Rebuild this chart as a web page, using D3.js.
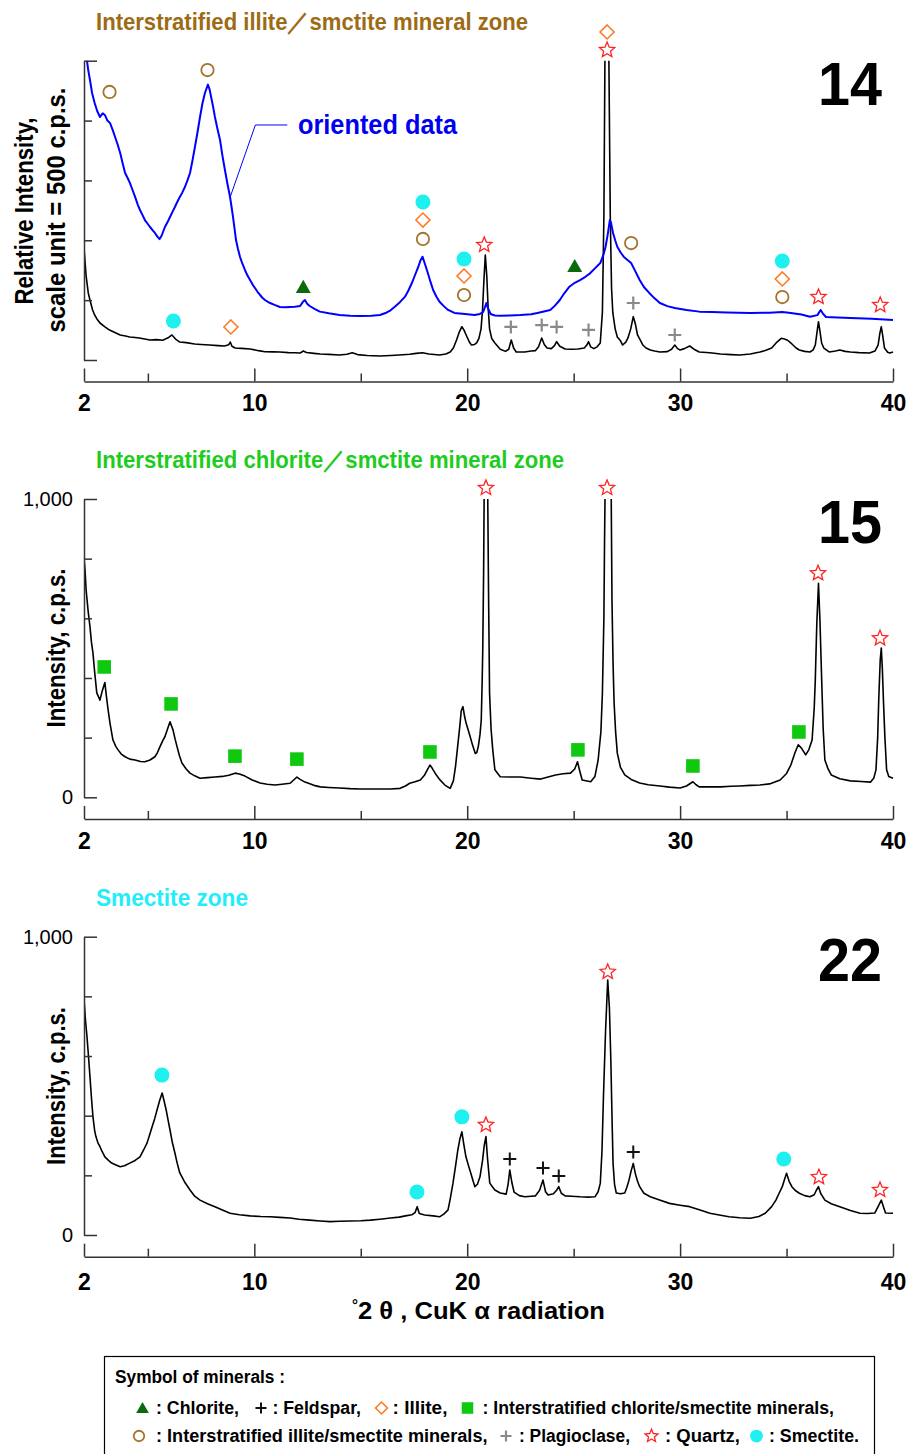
<!DOCTYPE html>
<html>
<head>
<meta charset="utf-8">
<script src="https://cdn.jsdelivr.net/npm/d3@7"></script>
<style>
  body { margin: 0; background: #fff; }
  svg { display: block; }
</style>
</head>
<body>
<div id="chart"></div>
<script>

// x axis (degrees 2-theta)
var xTickValues = [2, 5, 10, 15, 20, 25, 30, 35, 40];
var xTickLabels = [2, 10, 20, 30, 40];

// y ticks
var yTicks14 = [0, 500, 1000, 1500, 2000, 2500];
var yTicksCps = [0, 200, 400, 600, 800, 1000];
var yLabelsCps = [0, 1000];

// sample 14, random powder (black) - [2theta, relative intensity]
var trace14Random = [[2.0,935],[2.1,700],[2.2,560],[2.28,501],[2.4,420],[2.5,376],[2.6,345],[2.75,309],[3.0,275],[3.2,250],[3.45,230],[3.7,209],[3.95,200],[4.15,192],[4.4,188],[4.6,184],[4.85,176],[5.1,167],[5.4,170],[5.7,165],[5.95,185],[6.13,209],[6.3,175],[6.5,150],[6.8,145],[7.2,134],[7.5,130],[7.9,125],[8.3,120],[8.6,117],[8.8,128],[8.87,150],[8.95,115],[9.1,100],[9.4,97],[9.8,92],[10.2,78],[10.5,69],[10.9,68],[11.2,67],[11.6,62],[11.9,60],[12.15,58],[12.3,75],[12.45,62],[12.8,55],[13.1,50],[13.5,47],[14.0,42],[14.35,48],[14.6,60],[14.85,45],[15.3,38],[15.9,33],[16.4,38],[16.8,42],[17.3,48],[17.6,55],[17.9,60],[18.2,50],[18.7,42],[19.0,50],[19.2,67],[19.35,100],[19.5,167],[19.62,230],[19.75,278],[19.85,250],[19.95,209],[20.1,150],[20.2,125],[20.35,130],[20.45,145],[20.55,180],[20.65,260],[20.72,420],[20.78,650],[20.85,877],[20.92,700],[20.98,450],[21.05,260],[21.15,180],[21.3,142],[21.55,90],[21.8,72],[21.95,90],[22.07,167],[22.18,100],[22.3,67],[22.7,67],[23.0,75],[23.2,78],[23.35,110],[23.5,184],[23.62,130],[23.75,100],[23.95,95],[24.1,120],[24.2,153],[24.35,115],[24.6,92],[24.9,90],[25.2,92],[25.5,100],[25.62,125],[25.7,153],[25.8,110],[25.95,95],[26.1,110],[26.25,142],[26.35,400],[26.42,1200],[26.48,2800],[26.56,4800],[26.64,2800],[26.72,1200],[26.78,600],[26.84,393],[26.95,260],[27.05,192],[27.2,160],[27.3,125],[27.45,150],[27.55,184],[27.68,260],[27.8,362],[27.9,300],[28.0,209],[28.15,160],[28.25,125],[28.4,100],[28.6,84],[28.8,75],[29.05,67],[29.4,70],[29.6,90],[29.75,125],[29.88,95],[30.0,84],[30.2,95],[30.45,117],[30.65,90],[30.9,67],[31.4,60],[31.9,50],[32.4,45],[32.8,42],[33.3,50],[33.75,67],[34.0,80],[34.3,100],[34.55,150],[34.75,181],[34.9,175],[35.05,165],[35.25,134],[35.45,100],[35.6,84],[35.85,72],[36.1,67],[36.25,85],[36.35,125],[36.43,230],[36.5,320],[36.57,240],[36.65,140],[36.75,100],[37.0,67],[37.3,75],[37.5,84],[37.75,72],[38.0,67],[38.4,62],[38.9,58],[39.15,75],[39.3,125],[39.38,220],[39.45,278],[39.52,200],[39.6,100],[39.75,65],[39.85,58],[40.0,67]];

// sample 14, oriented (blue)
var trace14Oriented = [[2.05,2650],[2.14,2500],[2.2,2420],[2.28,2339],[2.38,2230],[2.5,2147],[2.62,2080],[2.75,2030],[2.88,2060],[2.98,2047],[3.1,2000],[3.22,1980],[3.35,1920],[3.46,1863],[3.58,1800],[3.7,1729],[3.82,1640],[3.93,1562],[4.05,1520],[4.16,1478],[4.28,1420],[4.4,1362],[4.52,1300],[4.63,1253],[4.75,1210],[4.86,1169],[4.98,1140],[5.1,1111],[5.22,1085],[5.33,1061],[5.45,1030],[5.55,1010],[5.65,1040],[5.8,1111],[5.92,1150],[6.04,1194],[6.15,1235],[6.27,1278],[6.38,1320],[6.5,1362],[6.62,1400],[6.74,1445],[6.86,1500],[6.98,1562],[7.1,1670],[7.21,1779],[7.33,1900],[7.45,2030],[7.56,2140],[7.68,2230],[7.76,2270],[7.82,2300],[7.9,2260],[8.0,2172],[8.08,2100],[8.15,2030],[8.27,1930],[8.39,1838],[8.5,1710],[8.62,1587],[8.74,1470],[8.86,1362],[8.93,1280],[9.0,1194],[9.07,1100],[9.14,1002],[9.23,930],[9.33,860],[9.45,800],[9.56,752],[9.68,705],[9.8,668],[9.92,630],[10.03,601],[10.15,570],[10.27,543],[10.38,520],[10.5,501],[10.62,488],[10.74,476],[10.95,460],[11.2,443],[11.45,440],[11.68,443],[11.9,445],[12.15,451],[12.3,490],[12.38,501],[12.48,470],[12.6,451],[12.85,425],[13.08,404],[13.5,390],[14.0,376],[14.5,370],[15.0,367],[15.5,370],[15.9,376],[16.2,395],[16.4,415],[16.6,445],[16.85,485],[17.08,529],[17.25,585],[17.4,643],[17.55,710],[17.7,777],[17.8,830],[17.9,863],[18.0,810],[18.15,727],[18.28,650],[18.4,585],[18.55,530],[18.7,487],[18.9,450],[19.1,418],[19.4,393],[19.9,384],[20.35,376],[20.6,385],[20.75,401],[20.85,450],[20.9,476],[20.98,430],[21.1,384],[21.3,372],[21.55,370],[22.0,372],[22.5,376],[23.0,382],[23.3,393],[23.6,405],[23.9,418],[24.1,450],[24.35,501],[24.55,555],[24.8,612],[25.05,645],[25.3,668],[25.55,695],[25.77,724],[26.0,765],[26.25,810],[26.4,880],[26.5,946],[26.6,1050],[26.7,1169],[26.75,1150],[26.85,1061],[26.95,1000],[27.05,946],[27.2,900],[27.35,863],[27.5,840],[27.7,810],[27.9,740],[28.1,668],[28.3,610],[28.55,560],[28.8,515],[29.05,476],[29.4,450],[29.75,434],[30.3,418],[30.9,404],[31.5,400],[32.2,397],[33.3,393],[34.2,395],[34.8,400],[35.2,393],[35.7,380],[36.1,362],[36.45,375],[36.6,418],[36.7,390],[36.85,359],[37.4,355],[38.0,351],[39.0,345],[40.0,334]];

// sample 15, c.p.s.
var trace15 = [[2.0,801],[2.05,760],[2.1,695],[2.2,620],[2.28,572],[2.35,520],[2.42,484],[2.5,420],[2.6,350],[2.75,326],[2.85,355],[2.98,385],[3.05,340],[3.12,300],[3.22,249],[3.36,192],[3.5,170],[3.6,159],[3.75,145],[3.93,136],[4.15,128],[4.4,125],[4.65,120],[4.86,119],[5.1,125],[5.33,136],[5.45,150],[5.57,170],[5.7,190],[5.8,203],[5.92,228],[6.04,253],[6.18,226],[6.28,195],[6.37,170],[6.48,140],[6.6,115],[6.8,95],[6.98,81],[7.2,72],[7.45,64],[7.8,66],[8.15,68],[8.5,70],[8.8,74],[9.1,81],[9.3,78],[9.56,71],[9.9,58],[10.27,48],[10.6,44],[10.97,41],[11.3,44],[11.68,47],[11.85,58],[12.0,68],[12.15,60],[12.38,51],[12.8,40],[13.1,35],[13.5,33],[14.0,31],[14.5,29],[14.96,28],[15.5,28],[15.9,28],[16.4,28],[16.85,30],[17.1,38],[17.3,47],[17.55,52],[17.8,58],[18.0,75],[18.15,95],[18.25,108],[18.35,98],[18.5,80],[18.7,60],[18.95,41],[19.2,30],[19.35,55],[19.45,103],[19.55,170],[19.65,237],[19.72,290],[19.8,304],[19.88,270],[19.95,248],[20.05,225],[20.14,203],[20.25,175],[20.38,147],[20.45,150],[20.52,170],[20.6,210],[20.66,259],[20.7,380],[20.73,494],[20.77,750],[20.8,1050],[20.84,1400],[20.9,1400],[20.96,1050],[21.0,700],[21.05,349],[21.12,230],[21.2,159],[21.3,92],[21.55,69],[22.0,68],[22.5,68],[23.0,64],[23.45,61],[23.8,68],[24.15,75],[24.5,79],[24.85,81],[25.05,95],[25.18,119],[25.28,90],[25.4,58],[25.8,52],[26.0,70],[26.15,125],[26.28,220],[26.35,349],[26.42,600],[26.45,852],[26.48,1050],[26.52,1400],[26.72,1400],[26.76,1050],[26.8,661],[26.85,450],[26.9,316],[26.97,220],[27.05,148],[27.2,100],[27.4,75],[27.7,60],[28.1,48],[28.5,42],[29.05,38],[29.5,34],[30.0,31],[30.3,38],[30.6,52],[30.75,42],[30.9,35],[31.4,35],[31.9,35],[32.4,37],[32.8,38],[33.3,40],[33.75,41],[34.2,45],[34.7,58],[35.0,80],[35.2,108],[35.4,150],[35.55,176],[35.7,165],[35.9,142],[36.05,160],[36.2,192],[36.3,300],[36.35,393],[36.42,580],[36.5,717],[36.57,590],[36.65,393],[36.72,230],[36.8,125],[36.95,95],[37.1,75],[37.5,62],[38.0,55],[38.5,53],[38.95,51],[39.1,65],[39.2,92],[39.28,200],[39.33,326],[39.4,460],[39.45,500],[39.5,430],[39.55,326],[39.62,200],[39.7,92],[39.8,70],[40.0,64]];

// sample 22, c.p.s.
var trace22 = [[2.0,790],[2.07,720],[2.14,665],[2.21,600],[2.28,531],[2.35,460],[2.42,397],[2.5,350],[2.56,330],[2.65,310],[2.75,296],[2.85,280],[2.98,262],[3.15,250],[3.3,241],[3.5,235],[3.7,229],[3.9,232],[4.15,241],[4.4,250],[4.63,262],[4.8,285],[4.96,308],[5.08,335],[5.2,363],[5.32,390],[5.43,419],[5.55,450],[5.67,476],[5.76,450],[5.86,419],[5.95,385],[6.04,352],[6.15,310],[6.27,275],[6.38,240],[6.5,208],[6.75,175],[6.98,151],[7.2,130],[7.45,117],[7.8,105],[8.15,95],[8.5,84],[8.86,73],[9.3,68],[9.8,64],[10.3,62],[10.74,61],[11.2,59],[11.68,57],[12.1,53],[12.6,50],[13.1,47],[13.55,45],[14.0,46],[14.5,47],[15.0,48],[15.45,50],[15.9,53],[16.4,57],[16.8,60],[17.1,64],[17.4,68],[17.55,75],[17.65,95],[17.75,72],[18.0,67],[18.4,64],[18.7,61],[18.9,70],[19.1,84],[19.2,120],[19.33,173],[19.45,230],[19.56,285],[19.65,320],[19.75,346],[19.85,300],[19.94,262],[20.05,235],[20.17,207],[20.28,180],[20.36,162],[20.48,170],[20.6,195],[20.72,250],[20.8,300],[20.88,330],[20.95,260],[21.06,174],[21.2,160],[21.3,151],[21.55,141],[21.83,137],[21.92,170],[22.0,218],[22.1,175],[22.2,144],[22.45,132],[22.7,128],[23.0,130],[23.2,131],[23.4,150],[23.56,184],[23.68,145],[23.8,134],[24.05,138],[24.2,150],[24.3,162],[24.42,140],[24.6,131],[24.9,130],[25.3,128],[25.7,127],[26.0,128],[26.15,145],[26.25,173],[26.33,280],[26.4,464],[26.5,687],[26.6,855],[26.68,760],[26.75,576],[26.8,400],[26.85,241],[26.92,170],[27.0,141],[27.2,138],[27.4,141],[27.5,160],[27.6,184],[27.7,215],[27.8,240],[27.9,205],[28.0,180],[28.1,162],[28.3,140],[28.6,128],[29.0,118],[29.5,106],[30.0,100],[30.45,95],[30.9,85],[31.4,73],[31.9,66],[32.3,61],[32.8,58],[33.3,56],[33.7,62],[34.0,73],[34.3,95],[34.5,117],[34.65,140],[34.8,162],[34.9,185],[35.0,207],[35.12,180],[35.25,162],[35.4,150],[35.6,140],[35.85,132],[36.1,128],[36.3,135],[36.4,150],[36.5,162],[36.6,140],[36.8,117],[37.1,105],[37.5,95],[38.0,82],[38.45,73],[38.8,72],[39.15,74],[39.3,95],[39.45,117],[39.55,95],[39.65,74],[40.0,73]];

// peak markers: [mineral, 2theta, intensity where the symbol sits]
var markers14 = [["iis",3.2,2239],["iis",7.8,2422],["smectite",6.2,326],["illite",8.9,276],["chlorite",12.3,610],
  ["smectite",17.92,1320],["illite",17.92,1169],["iis",17.92,1011],
  ["smectite",19.85,844],["illite",19.85,702],["iis",19.85,543],["quartz",20.8,961],
  ["plagioclase",22.05,276],["plagioclase",23.5,292],["plagioclase",24.2,276],["plagioclase",25.7,251],
  ["chlorite",25.05,785],["illite",26.57,2740],["quartz",26.57,2589],["iis",27.7,977],
  ["plagioclase",27.8,476],["plagioclase",29.75,209],
  ["smectite",34.8,827],["illite",34.8,677],["iis",34.8,526],["quartz",36.5,526],["quartz",39.4,459]];

var markers15 = [["ccs",2.95,437],["ccs",6.09,313],["ccs",9.09,138],["ccs",12.0,128],["ccs",18.25,152],
  ["quartz",20.88,1037],["quartz",26.57,1037],["ccs",25.2,159],["ccs",30.6,105],["ccs",35.58,219],
  ["quartz",36.48,751],["quartz",39.39,533]];

var markers22 = [["smectite",5.66,536],["smectite",17.64,144],["smectite",19.75,396],["quartz",20.88,369],
  ["feldspar",22.0,255],["feldspar",23.56,225],["feldspar",24.3,198],["feldspar",27.8,278],
  ["quartz",26.6,882],["smectite",34.87,255],["quartz",36.52,194],["quartz",39.39,151]];

// legend rows: [mineral, label]
var legendRow1 = [["chlorite",": Chlorite,"],["feldspar",": Feldspar,"],["illite",": Illite,"],["ccs",": Interstratified chlorite/smectite minerals,"]];
var legendRow2 = [["iis",": Interstratified illite/smectite minerals,"],["plagioclase",": Plagioclase,"],["quartz",": Quartz,"],["smectite",": Smectite."]];

var FONT = "'Liberation Sans Narrow','Liberation Sans',Arial,sans-serif";

var mineralStyle = {
  chlorite:    {shape:"triangle", fill:"#0b6b0b", stroke:"none", r:7.5, sw:0},
  feldspar:    {shape:"plus", fill:"none", stroke:"#111", r:6.5, sw:2},
  illite:      {shape:"diamond", fill:"#fff", stroke:"#ff7a22", r:7, sw:1.6},
  ccs:         {shape:"square", fill:"#10c810", stroke:"none", r:6.8, sw:0},
  iis:         {shape:"circle", fill:"#fff", stroke:"#a3742a", r:6.2, sw:1.8},
  plagioclase: {shape:"plus", fill:"none", stroke:"#8a8a8a", r:6.5, sw:2.2},
  quartz:      {shape:"star", fill:"#fff", stroke:"#ff2424", r:8, sw:1.3},
  smectite:    {shape:"circle", fill:"#1ef0f0", stroke:"none", r:7.5, sw:0}
};

function shapePath(shape, r){
  if(shape == "circle"){
    return "M"+r+",0A"+r+","+r+" 0 1,1 "+(-r)+",0A"+r+","+r+" 0 1,1 "+r+",0Z";
  }
  if(shape == "diamond"){
    return "M0,"+(-r)+"L"+r+",0L0,"+r+"L"+(-r)+",0Z";
  }
  if(shape == "square"){
    return "M"+(-r)+","+(-r)+"H"+r+"V"+r+"H"+(-r)+"Z";
  }
  if(shape == "triangle"){
    return "M0,"+(-r*0.95)+"L"+r+","+(r*0.8)+"L"+(-r)+","+(r*0.8)+"Z";
  }
  if(shape == "plus"){
    return "M"+(-r)+",0H"+r+"M0,"+(-r)+"V"+r;
  }
  // star
  var pts = [];
  for(var i = 0; i < 10; i++){
    var a = -Math.PI/2 + i*Math.PI/5;
    var rr = (i % 2 == 0) ? r : r*0.45;
    pts.push([rr*Math.cos(a), rr*Math.sin(a)]);
  }
  return "M" + pts.map(function(p){ return p[0].toFixed(2)+","+p[1].toFixed(2); }).join("L") + "Z";
}

function drawMarker(g, mineral, px, py, scale){
  var st = mineralStyle[mineral];
  g.append("path").attr("d", shapePath(st.shape, st.r*scale))
    .attr("transform","translate("+px+","+py+")")
    .attr("fill", st.fill).attr("stroke", st.stroke).attr("stroke-width", st.sw);
}

function fitText(t, w){
  t.attr("textLength", w).attr("lengthAdjust","spacingAndGlyphs");
  return t;
}

var svg = d3.select("#chart").append("svg").attr("width",912).attr("height",1454)
  .style("font-family", FONT);

var x = d3.scaleLinear().domain([2,40]).range([84,893]);

var panels = [
  {no:"14", title:"Interstratified illite／smctite mineral zone", titleColor:"#9c6b14", titleW:432,
   top:60.7, bottom:360, axisY:381.5, labelY:411, yMax:2500, yTicks:yTicks14, yLabels:[],
   traces:[{data:trace14Random, color:"#000", w:1.6},{data:trace14Oriented, color:"#0000ff", w:2}],
   markers:markers14},
  {no:"15", title:"Interstratified chlorite／smctite mineral zone", titleColor:"#1ecc1e", titleW:468,
   top:499, bottom:797.3, axisY:819, labelY:849, yMax:1000, yTicks:yTicksCps, yLabels:yLabelsCps,
   traces:[{data:trace15, color:"#000", w:1.6}], markers:markers15},
  {no:"22", title:"Smectite zone", titleColor:"#22eefa", titleW:152,
   top:936.7, bottom:1235, axisY:1256.7, labelY:1290, yMax:1000, yTicks:yTicksCps, yLabels:yLabelsCps,
   traces:[{data:trace22, color:"#000", w:1.6}], markers:markers22}
];

panels.forEach(function(p, i){

  var y = d3.scaleLinear().domain([0, p.yMax]).range([p.bottom, p.top]);
  var g = svg.append("g");

  // zone title
  fitText(g.append("text").attr("x",96).attr("y",p.top-31).attr("fill",p.titleColor)
    .attr("font-size",24).attr("font-weight","bold").text(p.title), p.titleW);

  // sample number
  fitText(g.append("text").attr("x",818).attr("y",p.top+44).attr("fill","#000")
    .attr("font-size",62).attr("font-weight","bold").text(p.no), 64);

  // clip
  svg.append("clipPath").attr("id","clip"+i).append("rect")
    .attr("x",84).attr("y",p.top).attr("width",810).attr("height",p.axisY-p.top);

  // traces
  var line = d3.line().x(function(d){ return x(d[0]); }).y(function(d){ return y(d[1]); });
  p.traces.forEach(function(tr){
    g.append("path").datum(tr.data).attr("d",line).attr("fill","none")
      .attr("stroke",tr.color).attr("stroke-width",tr.w).attr("stroke-linejoin","round")
      .attr("clip-path","url(#clip"+i+")");
  });

  // x axis (ticks pointing up, labels below)
  var xAxis = d3.axisBottom(x).tickValues(xTickValues).tickSizeInner(-8).tickSizeOuter(0)
    .tickFormat(function(d){ return xTickLabels.indexOf(d) >= 0 ? d : ""; });
  var gx = g.append("g").attr("transform","translate(0,"+p.axisY+")").call(xAxis);
  gx.select(".domain").attr("stroke","#333").attr("stroke-width",1.5);
  gx.selectAll(".tick line").attr("stroke","#333").attr("stroke-width",1.5)
    .attr("y2", function(d){ return xTickLabels.indexOf(d) >= 0 ? -13 : -8; });
  gx.selectAll(".tick text").attr("y", p.labelY - p.axisY).attr("dy",0)
    .attr("fill","#000").attr("font-size",23).attr("font-weight","bold").attr("font-family",FONT);

  // y axis (ticks pointing right)
  var yAxis = d3.axisLeft(y).tickValues(p.yTicks).tickSizeInner(-8).tickSizeOuter(0).tickPadding(11)
    .tickFormat(function(d){ return p.yLabels.indexOf(d) >= 0 ? d3.format(",")(d) : ""; });
  var gy = g.append("g").attr("transform","translate(84,0)").call(yAxis);
  gy.select(".domain").attr("stroke","#333").attr("stroke-width",1.5);
  gy.selectAll(".tick line").attr("stroke","#333").attr("stroke-width",1.5)
    .attr("x2", function(d){ return (d == 0 || d == p.yMax) ? 13 : 8; });
  gy.selectAll(".tick text").attr("fill","#000").attr("font-size",20).attr("font-family",FONT);

  // markers
  p.markers.forEach(function(m){
    drawMarker(g, m[0], x(m[1]), y(m[2]), 1);
  });

  p.y = y;
});

// y axis titles
var yTitles = [
  {text:"Relative Intensity,", x:33, cy:211, w:187},
  {text:"scale unit = 500 c.p.s.", x:65, cy:210, w:245},
  {text:"Intensity, c.p.s.", x:65, cy:648, w:159},
  {text:"Intensity, c.p.s.", x:65, cy:1086, w:158}
];
yTitles.forEach(function(t){
  fitText(svg.append("text").attr("transform","translate("+t.x+","+t.cy+") rotate(-90)")
    .attr("text-anchor","middle").attr("font-size",25).attr("font-weight","bold")
    .attr("fill","#000").text(t.text), t.w);
});

// "oriented data" callout on panel 14
var y14 = panels[0].y;
var callout = [[8.85,1353],[10.05,1963],[11.55,1963]];
svg.append("path").datum(callout)
  .attr("d", d3.line().x(function(d){ return x(d[0]); }).y(function(d){ return y14(d[1]); }))
  .attr("fill","none").attr("stroke","#0000ff").attr("stroke-width",1);
fitText(svg.append("text").attr("x",298).attr("y",134).attr("fill","#0000ee")
  .attr("font-size",28).attr("font-weight","bold").text("oriented data"), 159);

// x axis title
var xt = svg.append("text").attr("x",352).attr("y",1319).attr("font-size",24)
  .attr("font-weight","bold").attr("fill","#000");
xt.append("tspan").attr("font-size",14).attr("dy",-9).text("°");
xt.append("tspan").attr("dy",9).text("2 θ , CuK α  radiation");
fitText(xt, 253);

// legend
var lg = svg.append("g");
lg.append("rect").attr("x",104.5).attr("y",1356.5).attr("width",770).attr("height",120)
  .attr("fill","none").attr("stroke","#000").attr("stroke-width",1.2);
fitText(lg.append("text").attr("x",115).attr("y",1383).attr("font-size",18).attr("font-weight","bold")
  .text("Symbol of minerals :"), 170);

var legendLayout = [
  {row:legendRow1, baseline:1414, cy:1408, items:[[142.5,156,83],[261,272.5,88.5],[381.5,392.5,55],[467.5,482.5,351.5]]},
  {row:legendRow2, baseline:1442, cy:1436, items:[[139,156,331.5],[506,519,111],[651.5,665,75],[756.5,769,90]]}
];
legendLayout.forEach(function(L){
  L.row.forEach(function(item, k){
    var pos = L.items[k];
    drawMarker(lg, item[0], pos[0], L.cy, 0.85);
    fitText(lg.append("text").attr("x",pos[1]).attr("y",L.baseline).attr("font-size",18)
      .attr("font-weight","bold").text(item[1]), pos[2]);
  });
});

</script>
</body>
</html>
